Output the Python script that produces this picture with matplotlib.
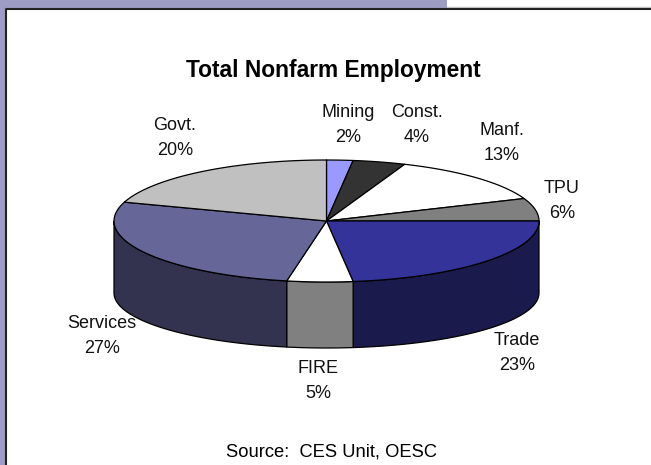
import numpy as np
from matplotlib import pyplot as plt
from matplotlib.patches import Rectangle

categories = ["Mining", "Const.", "Manf.", "TPU", "Trade", "FIRE", "Services", "Govt."]
shares = [2, 4, 13, 6, 23, 5, 27, 20]
top_colors = ["#9999ff", "#333333", "#ffffff", "#808080", "#333399", "#ffffff", "#666699", "#c0c0c0"]
side_colors = ["#4c4c80", "#1a1a1a", "#808080", "#404040", "#1a1a4d", "#808080", "#333350", "#606060"]
label_pos = [(348, 125), (417, 125), (502, 143), (562, 201), (517, 353), (318, 381), (102, 336), (175, 138)]

CX, CY, RX, RY = 326.5, 221, 212.5, 61
# bottom rim is a little flatter than the top one
WALL, BOTTOM_RY = 72, 55

plt.rcParams["font.family"] = ["Liberation Sans", "DejaVu Sans"]


def rim(a, b, cy=CY, ry=RY):
    # angles run clockwise from 12 o'clock, in degrees
    t = np.radians(np.linspace(a, b, 80))
    return CX + RX * np.sin(t), cy - ry * np.cos(t)


fig = plt.figure(figsize=(6.51, 4.65), dpi=100)
ax = fig.add_axes([0, 0, 1, 1])
ax.set_xlim(0, 651)
ax.set_ylim(465, 0)
ax.axis("off")

ax.add_patch(Rectangle((0, 0), 447, 8, fc="#9c9cc4", ec="none"))
ax.add_patch(Rectangle((0, 0), 5, 465, fc="#9c9cc4", ec="none"))
ax.plot([447, 651], [7.5, 7.5], color="#c8c8c8", lw=1)
ax.plot([5.5, 5.5, 651], [465, 8.8, 8.8], color="#222222", lw=1.5)

edges = np.cumsum([0] + shares) * 3.6

# side wall, only the front half is visible
for i in range(len(shares)):
    a, b = max(edges[i], 90), min(edges[i + 1], 270)
    if a >= b:
        continue
    x, y = rim(a, b)
    x2, y2 = rim(a, b, CY + WALL, BOTTOM_RY)
    ax.fill(
        np.r_[x, x2[::-1]], np.r_[y, y2[::-1]],
        fc=side_colors[i], ec="black", lw=0.9, joinstyle="round",
    )

# top face
for i in range(len(shares)):
    x, y = rim(edges[i], edges[i + 1])
    ax.fill(np.r_[CX, x], np.r_[CY, y], fc=top_colors[i], ec="black", lw=0.9, joinstyle="round")

for name, share, (lx, ly) in zip(categories, shares, label_pos):
    ax.text(lx, ly, f"{name}\n{share}%", ha="center", va="center", fontsize=13,
            linespacing=1.67, color="#111111")

ax.text(333.5, 71, "Total Nonfarm Employment", ha="center", va="center", fontsize=16.4,
        fontweight="bold", color="black")
ax.text(332, 452, "Source:  CES Unit, OESC", ha="center", va="center", fontsize=13.2, color="black")

fig.savefig("out.png", dpi=100)
